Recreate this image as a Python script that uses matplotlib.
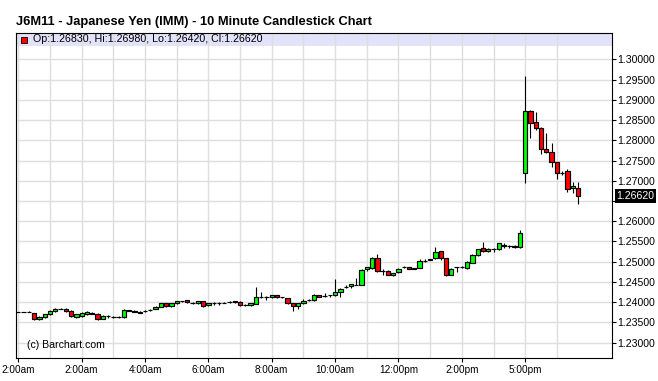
import matplotlib
matplotlib.use("Agg")
import matplotlib.pyplot as plt
import matplotlib.transforms as mtransforms
from matplotlib.patches import Rectangle
import numpy as np

plt.rcParams["font.family"] = ["Liberation Sans", "DejaVu Sans"]

TITLE = "J6M11 - Japanese Yen (IMM) - 10 Minute Candlestick Chart"
LEGEND_TEXT = "Op:1.26830, Hi:1.26980, Lo:1.26420, Cl:1.26620"
LAST_PRICE = 1.26620

# 10 minute candles
OPEN = [1.2376, 1.2376, 1.2376, 1.2373, 1.2358, 1.2364, 1.2371, 1.2378, 1.2384, 1.2383,
        1.2378, 1.2364, 1.2366, 1.2370, 1.2374, 1.2371, 1.2359, 1.2366, 1.2364, 1.2364,
        1.2363, 1.2379, 1.2379, 1.2377, 1.2378, 1.2380, 1.2383, 1.2389, 1.2397, 1.2391,
        1.2397, 1.2402, 1.2405, 1.2399, 1.2397, 1.2402, 1.2392, 1.2399, 1.2399, 1.2399,
        1.2400, 1.2401, 1.2400, 1.2394, 1.2392, 1.2396, 1.2414, 1.2414, 1.2412, 1.2417,
        1.2412, 1.2410, 1.2397, 1.2391, 1.2397, 1.2406, 1.2405, 1.2417, 1.2415, 1.2417,
        1.2417, 1.2425, 1.2438, 1.2440, 1.2443, 1.2443, 1.2481, 1.2484, 1.2508, 1.2477,
        1.2476, 1.2468, 1.2474, 1.2486, 1.2486, 1.2483, 1.2485, 1.2503, 1.2505, 1.2509,
        1.2526, 1.2508, 1.2468, 1.2486, 1.2487, 1.2484, 1.2498, 1.2516, 1.2534, 1.2527,
        1.2531, 1.2531, 1.2541, 1.2540, 1.2540, 1.2536, 1.2720, 1.2872, 1.2846, 1.2830,
        1.2778, 1.2771, 1.2746, 1.2720, 1.2724, 1.2681, 1.2683]
HIGH = [1.2377, 1.2377, 1.2378, 1.2374, 1.2366, 1.2372, 1.2380, 1.2386, 1.2386, 1.2385,
        1.2380, 1.2372, 1.2376, 1.2378, 1.2376, 1.2373, 1.2368, 1.2368, 1.2367, 1.2367,
        1.2382, 1.2381, 1.2381, 1.2379, 1.2380, 1.2382, 1.2391, 1.2399, 1.2398, 1.2399,
        1.2404, 1.2404, 1.2406, 1.2401, 1.2403, 1.2403, 1.2398, 1.2400, 1.2400, 1.2401,
        1.2402, 1.2404, 1.2402, 1.2395, 1.2398, 1.2438, 1.2425, 1.2416, 1.2418, 1.2418,
        1.2414, 1.2411, 1.2398, 1.2398, 1.2407, 1.2407, 1.2420, 1.2419, 1.2423, 1.2418,
        1.2458, 1.2436, 1.2442, 1.2446, 1.2461, 1.2481, 1.2487, 1.2511, 1.2519, 1.2481,
        1.2480, 1.2473, 1.2485, 1.2490, 1.2487, 1.2485, 1.2506, 1.2506, 1.2507, 1.2536,
        1.2527, 1.2510, 1.2484, 1.2488, 1.2490, 1.2501, 1.2518, 1.2532, 1.2549, 1.2535,
        1.2533, 1.2547, 1.2546, 1.2542, 1.2542, 1.2579, 1.2959, 1.2874, 1.2869, 1.2832,
        1.2819, 1.2794, 1.2746, 1.2723, 1.2728, 1.2697, 1.2698]
LOW = [1.2375, 1.2375, 1.2375, 1.2356, 1.2357, 1.2362, 1.2369, 1.2376, 1.2382, 1.2377,
       1.2364, 1.2362, 1.2364, 1.2368, 1.2370, 1.2357, 1.2358, 1.2362, 1.2361, 1.2362,
       1.2362, 1.2378, 1.2375, 1.2373, 1.2377, 1.2379, 1.2382, 1.2387, 1.2388, 1.2389,
       1.2396, 1.2401, 1.2399, 1.2396, 1.2396, 1.2389, 1.2390, 1.2394, 1.2394, 1.2397,
       1.2398, 1.2399, 1.2390, 1.2391, 1.2391, 1.2395, 1.2410, 1.2406, 1.2411, 1.2411,
       1.2410, 1.2396, 1.2378, 1.2384, 1.2396, 1.2404, 1.2404, 1.2413, 1.2414, 1.2414,
       1.2416, 1.2414, 1.2434, 1.2434, 1.2442, 1.2442, 1.2476, 1.2483, 1.2474, 1.2468,
       1.2466, 1.2465, 1.2472, 1.2484, 1.2482, 1.2482, 1.2484, 1.2500, 1.2504, 1.2507,
       1.2504, 1.2465, 1.2467, 1.2474, 1.2484, 1.2483, 1.2497, 1.2514, 1.2525, 1.2525,
       1.2525, 1.2528, 1.2534, 1.2533, 1.2535, 1.2535, 1.2695, 1.2806, 1.2825, 1.2766,
       1.2769, 1.2733, 1.2704, 1.2713, 1.2672, 1.2670, 1.2642]
CLOSE = [1.2376, 1.2376, 1.2377, 1.2358, 1.2364, 1.2371, 1.2378, 1.2384, 1.2384, 1.2378,
         1.2366, 1.2370, 1.2374, 1.2376, 1.2372, 1.2359, 1.2366, 1.2366, 1.2364, 1.2364,
         1.2381, 1.2380, 1.2376, 1.2374, 1.2379, 1.2381, 1.2389, 1.2397, 1.2391, 1.2397,
         1.2402, 1.2403, 1.2400, 1.2399, 1.2402, 1.2391, 1.2397, 1.2399, 1.2399, 1.2399,
         1.2400, 1.2402, 1.2392, 1.2394, 1.2397, 1.2412, 1.2414, 1.2414, 1.2417, 1.2412,
         1.2412, 1.2397, 1.2391, 1.2397, 1.2404, 1.2406, 1.2417, 1.2414, 1.2415, 1.2417,
         1.2425, 1.2433, 1.2438, 1.2445, 1.2443, 1.2480, 1.2486, 1.2508, 1.2476, 1.2477,
         1.2468, 1.2471, 1.2483, 1.2486, 1.2483, 1.2484, 1.2501, 1.2503, 1.2506, 1.2524,
         1.2509, 1.2467, 1.2483, 1.2486, 1.2487, 1.2499, 1.2516, 1.2531, 1.2527, 1.2532,
         1.2531, 1.2546, 1.2538, 1.2540, 1.2537, 1.2570, 1.2872, 1.2842, 1.2830, 1.2778,
         1.2771, 1.2747, 1.2718, 1.2720, 1.2679, 1.2686, 1.2662]

X_TICK_POS = [0, 12, 24, 36, 48, 60, 72, 84, 96]
X_TICK_LABELS = ["2:00am", "2:00am", "4:00am", "6:00am", "8:00am",
                 "10:00am", "12:00pm", "2:00pm", "5:00pm"]
X_MINOR_POS = [6, 18, 30, 42, 54, 66, 78, 90, 102]
Y_TICKS = [1.230, 1.235, 1.240, 1.245, 1.250, 1.255, 1.260, 1.265,
           1.270, 1.275, 1.280, 1.285, 1.290, 1.295, 1.300]

GREEN = "#00ff00"
RED = "#ff0000"
GRID = "#dedede"
BAND = "#e2e2fa"

W, H = 658, 381
fig = plt.figure(figsize=(W / 100, H / 100), dpi=100)
fig.patch.set_facecolor("white")

# axes box in pixel terms (left, top, right, bottom)
L, T, R, B = 16, 33.3, 612, 358
ax = fig.add_axes([L / W, (H - B) / H, (R - L) / W, (B - T) / H])

o = np.array(OPEN)
h = np.array(HIGH)
lo = np.array(LOW)
c = np.array(CLOSE)
x = np.arange(len(o))
cols = np.where(c >= o, GREEN, RED)

ax.vlines(x, lo, h, color="black", linewidth=0.8, zorder=2)
ax.bar(x, np.abs(c - o), bottom=np.minimum(o, c), width=0.82, color=cols,
       edgecolor="black", linewidth=0.85, zorder=3)

ax.set_xlim(-0.44, 112.44)
ax.set_ylim(1.22622, 1.30642)

# lavender legend strip along the top of the plot
ax.axhspan(1.30336, 1.30642, color=BAND, zorder=0.2, linewidth=0)

ax.set_xticks(X_TICK_POS)
ax.set_xticklabels(X_TICK_LABELS)
ax.set_xticks(X_MINOR_POS, minor=True)
ax.set_yticks(Y_TICKS)
ax.set_yticklabels(["" if abs(v - 1.265) < 1e-9 else f"{v:.5f}" for v in Y_TICKS])
ax.yaxis.tick_right()

ax.set_axisbelow(True)
ax.grid(which="both", axis="x", color=GRID, linewidth=1.0)
ax.grid(which="major", axis="y", color=GRID, linewidth=1.0)

ax.tick_params(axis="x", which="major", direction="out", length=3, width=0.8,
               pad=2, labelsize=7.2)
ax.tick_params(axis="x", which="minor", length=0)
ax.tick_params(axis="y", direction="out", length=3, width=0.8, pad=1,
               labelsize=7.6)
for sp in ax.spines.values():
    sp.set_linewidth(0.8)
    sp.set_color("black")

# last price tag on the right axis
trans = mtransforms.blended_transform_factory(ax.transAxes, ax.transData)
ax.text(1.0 + 4.5 / (R - L), LAST_PRICE, f"{LAST_PRICE:.5f}", transform=trans,
        color="white", fontsize=7.6, ha="left", va="center",
        bbox=dict(facecolor="black", edgecolor="none", pad=1.2))

# texts
fig.text(L / W, 1 - 22 / H, TITLE, fontsize=9.3, fontweight="bold",
         ha="left", va="center")
fig.patches.append(Rectangle((20.7 / W, 1 - 43.3 / H), 6 / W, 6 / H,
                             transform=fig.transFigure, facecolor=RED,
                             edgecolor="black", linewidth=0.6))
fig.text(32.7 / W, 1 - 39.5 / H, LEGEND_TEXT, fontsize=7.7, ha="left", va="center")
fig.text(27.3 / W, 1 - 345 / H, "(c) Barchart.com", fontsize=7.6,
         ha="left", va="center")

fig.savefig("out.png", dpi=100)
